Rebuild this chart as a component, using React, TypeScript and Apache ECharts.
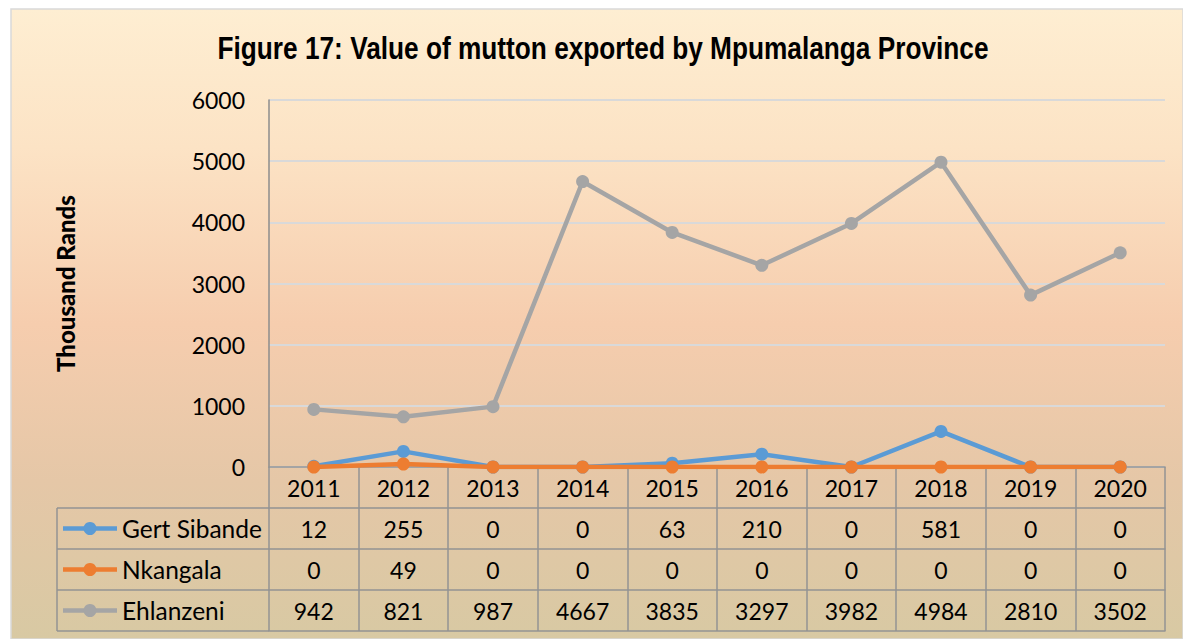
import React, { useEffect, useRef } from "react";
import * as echarts from "echarts";

const years = ["2011", "2012", "2013", "2014", "2015", "2016", "2017", "2018", "2019", "2020"];
const seriesNames = ["Gert Sibande", "Nkangala", "Ehlanzeni"];
const gertSibande = [12, 255, 0, 0, 63, 210, 0, 581, 0, 0];
const nkangala = [0, 49, 0, 0, 0, 0, 0, 0, 0, 0];
const ehlanzeni = [942, 821, 987, 4667, 3835, 3297, 3982, 4984, 2810, 3502];
const seriesValues = [gertSibande, nkangala, ehlanzeni];
const colors = ["#5B9BD5", "#ED7D31", "#A5A5A5"];
const yTicks = [0, 1000, 2000, 3000, 4000, 5000, 6000];
const titleText = "Figure 17: Value of mutton exported by Mpumalanga Province";
const yAxisTitle = "Thousand Rands";

const FONT = "Lato, 'Open Sans', sans-serif";
const W = 1183;
const H = 639;
const GRID_LEFT = 269;
const GRID_RIGHT = 1165;
const GRID_TOP = 100;
const GRID_BOTTOM = 467;
const ROW = 41;
const TABLE_LEFT = 57;
const BORDER = "#939393";

export default function App() {
  const ref = useRef<HTMLDivElement>(null);
  useEffect(() => {
    if (!ref.current) return;
    const chart = echarts.init(ref.current, undefined, { renderer: "svg" });

    const tableAxes = seriesValues.map((vals, k) => ({
      type: "category",
      data: years,
      position: "bottom",
      offset: ROW * (k + 1),
      gridIndex: 0,
      boundaryGap: true,
      axisLine: { show: true, lineStyle: { color: BORDER, width: 1.5 } },
      axisTick: { show: true, length: ROW, interval: 0, lineStyle: { color: BORDER, width: 1.5 } },
      axisLabel: {
        interval: 0,
        margin: 9,
        fontSize: 23,
        color: "#000",
        fontFamily: FONT,
        formatter: (_v: string, i: number) => String(vals[i]),
      },
      splitLine: { show: false },
    }));

    const bottomAxis = {
      type: "category",
      data: years,
      position: "bottom",
      offset: ROW * 4,
      gridIndex: 0,
      axisLine: { show: true, lineStyle: { color: BORDER, width: 1.5 } },
      axisTick: { show: false },
      axisLabel: { show: false },
      splitLine: { show: false },
    };

    const graphics: any[] = [
      {
        type: "rect",
        z: -100,
        shape: { x: 11, y: 9, width: W - 11, height: H - 9 },
        style: {
          fill: new echarts.graphic.LinearGradient(0, 0, 0, 1, [
            { offset: 0, color: "#FEEED2" },
            { offset: 0.22, color: "#FCE3C5" },
            { offset: 0.5, color: "#F6CDAE" },
            { offset: 0.75, color: "#E5C7A7" },
            { offset: 1, color: "#D8C9A3" },
          ]),
          stroke: "#D9D9D9",
          lineWidth: 1.5,
        },
      },
      {
        type: "text",
        x: 603,
        y: 48,
        scaleX: 0.82,
        originX: 0,
        style: {
          text: titleText,
          fontFamily: "'Liberation Sans', Arial, sans-serif",
          fontWeight: "bold",
          fontSize: 32,
          fill: "#000",
          align: "center",
          verticalAlign: "middle",
        },
      },
    ];

    // left column of the data table
    for (let r = 0; r < 4; r++) {
      const y = GRID_BOTTOM + ROW * (r + 1);
      graphics.push({
        type: "line",
        shape: { x1: TABLE_LEFT, y1: y, x2: GRID_LEFT, y2: y },
        style: { stroke: BORDER, lineWidth: 1.5 },
      });
    }
    graphics.push({
      type: "line",
      shape: { x1: TABLE_LEFT, y1: GRID_BOTTOM + ROW, x2: TABLE_LEFT, y2: GRID_BOTTOM + ROW * 4 },
      style: { stroke: BORDER, lineWidth: 1.5 },
    });
    seriesNames.forEach((name, k) => {
      const cy = GRID_BOTTOM + ROW * (k + 1) + ROW / 2;
      graphics.push({
        type: "line",
        shape: { x1: 63, y1: cy, x2: 117, y2: cy },
        style: { stroke: colors[k], lineWidth: 4.5 },
      });
      graphics.push({
        type: "circle",
        shape: { cx: 90, cy, r: 6.5 },
        style: { fill: colors[k] },
      });
      graphics.push({
        type: "text",
        x: 122,
        y: cy,
        style: {
          text: name,
          fontSize: 24.5,
          fontFamily: FONT,
          fill: "#000",
          verticalAlign: "middle",
          align: "left",
        },
      });
    });

    chart.setOption({
      animation: false,
      backgroundColor: "#fff",
      grid: {
        left: GRID_LEFT,
        right: W - GRID_RIGHT,
        top: GRID_TOP,
        bottom: H - GRID_BOTTOM,
        containLabel: false,
      },
      xAxis: [
        {
          type: "category",
          data: years,
          position: "bottom",
          boundaryGap: true,
          axisLine: { show: true, lineStyle: { color: BORDER, width: 1.5 } },
          axisTick: { show: true, length: ROW, interval: 0, lineStyle: { color: BORDER, width: 1.5 } },
          axisLabel: { interval: 0, margin: 9, fontSize: 23, color: "#000", fontFamily: FONT },
          splitLine: { show: false },
        },
        ...tableAxes,
        bottomAxis,
      ],
      yAxis: {
        type: "value",
        min: yTicks[0],
        max: yTicks[yTicks.length - 1],
        interval: 1000,
        name: yAxisTitle,
        nameLocation: "middle",
        nameGap: 192,
        nameRotate: 90,
        nameTextStyle: { fontFamily: FONT, fontWeight: 900, fontSize: 24, color: "#000" },
        axisLine: { show: true, lineStyle: { color: "#8C8C8C", width: 1.5 } },
        axisTick: { show: false },
        axisLabel: {
          fontSize: 23,
          color: "#000",
          fontFamily: FONT,
          margin: 24,
          formatter: (v: number) => String(v),
        },
        splitLine: { show: true, lineStyle: { color: "#D9D9D9", width: 2 } },
      },
      series: seriesNames.map((name, k) => ({
        name,
        type: "line",
        data: seriesValues[k],
        xAxisIndex: 0,
        symbol: "circle",
        symbolSize: 13,
        lineStyle: { color: colors[k], width: 4.5 },
        itemStyle: { color: colors[k] },
        z: 3 + k,
      })),
      graphic: graphics,
    });
    return () => chart.dispose();
  }, []);
  return (
    <div
      ref={ref}
      style={{ position: "absolute", left: 0, top: 0, width: W, height: H }}
    />
  );
}
